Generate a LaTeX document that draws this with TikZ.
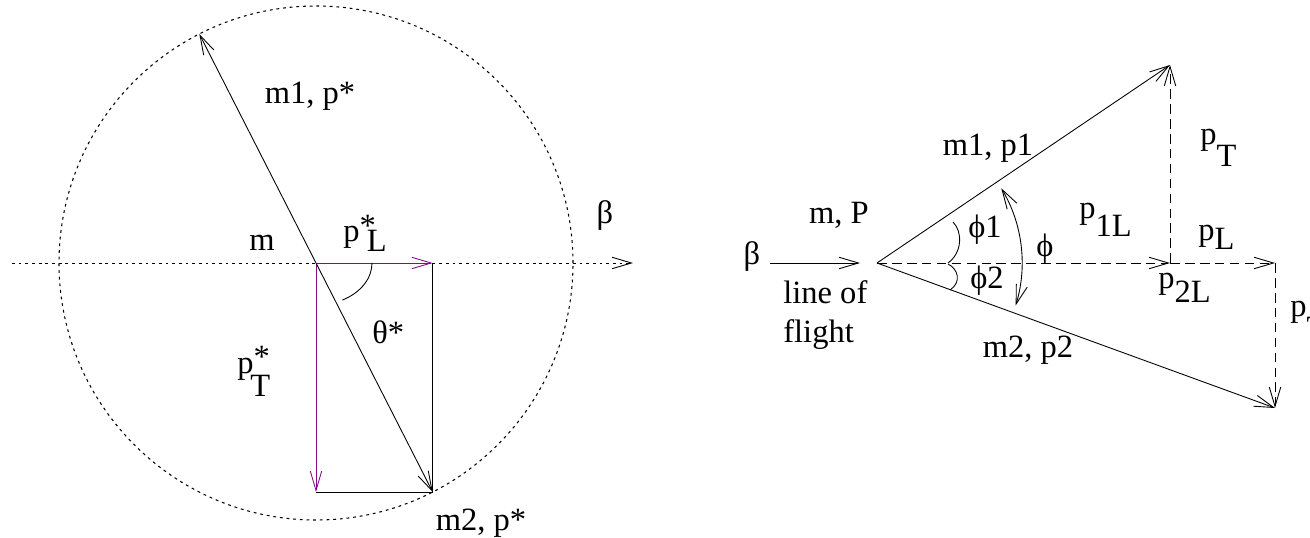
\documentclass[tikz,border=0pt]{standalone}
\usepackage{fontspec}
\setmainfont{Liberation Serif}
\usetikzlibrary{arrows.meta}
\definecolor{pvec}{RGB}{135,10,135}

\begin{document}
\begin{tikzpicture}[
  x=0.02cm, y=0.02cm,
  lbl/.style={inner sep=0pt, anchor=base, font=\fontsize{18.5}{22}\selectfont},
  lblw/.style={lbl, anchor=base west},
  vec/.style={-{Straight Barb[length=11pt,width=6.5pt]}, line width=0.5pt},
  vecboth/.style={{Straight Barb[length=11pt,width=6.5pt]}-{Straight Barb[length=11pt,width=6.5pt]}, line width=0.5pt},
  dotline/.style={line width=0.6pt, dash pattern=on 1.6pt off 2.2pt},
  dashline/.style={line width=0.5pt, dash pattern=on 5.5pt off 3pt}
]
\useasboundingbox (0,0) rectangle (1310,-537);

% rest frame
\coordinate (O) at (316,-263);
\coordinate (axL) at (12,-263);
\coordinate (axR) at (633,-263);
\coordinate (m1end) at ([shift={(117:257)}]O);
\coordinate (m2end) at ([shift={(-63:257)}]O);
\coordinate (pL) at (m2end |- O);
\coordinate (pT) at (O |- m2end);
\coordinate (thA) at (372,-263);

\draw[dotline] (O) circle (257);
\draw[dotline, vec] (axL) -- (axR);
\draw[line width=0.5pt] (pL) -- (m2end) -- (pT);
\draw[vec, pvec] (O) -- (pL);
\draw[vec, pvec] (O) -- (pT);
\draw[vecboth] (m1end) -- (m2end);
\draw[line width=0.5pt] (thA) arc[start angle=0, end angle=-62, x radius=56, y radius=42];

\node[lbl] (m1lbl) at (310,-103) {m1, p*};
\node[lbl] (mlbl) at (262,-250) {m};
\node[lblw] (pLlbl) at (343,-241) {p\raisebox{2.5pt}{*}\kern-0.28em\raisebox{-6pt}{L}};
\node[lbl] (betaL) at (605,-223) {β};
\node[lblw] (thlbl) at (372,-343) {θ*};
\node[lblw] (pTlbl) at (237,-373) {p\rlap{\raisebox{3pt}{*}}\kern-0.1em\raisebox{-13.5pt}{T}};
\node[lbl] (m2lbl) at (481,-530) {m2, p*};

% lab frame
\coordinate (V) at (877,-263);
\coordinate (bS) at (770,-263);
\coordinate (bE) at (860,-263);
\coordinate (p1) at (1170,-65);
\coordinate (p2) at (1275,-408);
\coordinate (p2L) at (1170,-263);
\coordinate (pLend) at (1275,-263);
\coordinate (phiA) at ([shift={(31:145)}]V);

\draw[vec] (bS) -- (bE);
\draw[vec] (V) -- (p1);
\draw[vec] (V) -- (p2);
\draw[dashline, vec] (V) -- (p2L);
\draw[dashline, vec] (p2L) -- (pLend);
\draw[dashline, vec] (p2L) -- (p1);
\draw[dashline, vec] (pLend) -- (p2);
\draw[line width=0.5pt] (953,-222) .. controls (963,-232) and (962,-253) .. (948,-263);
\draw[line width=0.5pt] (948,-264) .. controls (958,-269) and (962,-282) .. (950,-290);
\draw[vecboth] (phiA) arc[start angle=31, end angle=-17, radius=145];

\node[lbl] (betaR) at (752,-264) {β};
\node[lbl] (mPlbl) at (839,-223) {m, P};
\node[lblw] (lof1) at (783,-303) {line of};
\node[lblw] (lof2) at (783,-342) {flight};
\node[lbl] (m1p1) at (988,-155) {m1, p1};
\node[lbl] (phi1) at (985,-237) {ϕ1};
\node[lbl] (phi2) at (987,-288) {ϕ2};
\node[lbl] (phi) at (1045,-256) {ϕ};
\node[lblw] (p1Llbl) at (1079,-218) {p\raisebox{-10.8pt}{1L}};
\node[lblw] (pTR) at (1200,-144) {p\raisebox{-13pt}{T}};
\node[lblw] (pLR) at (1198,-240) {p\raisebox{-5.5pt}{L}};
\node[lblw] (p2Llbl) at (1158,-288) {p\raisebox{-8.5pt}{2L}};
\node[lblw] (pTcut) at (1290,-316) {p\raisebox{-13pt}{T}};
\node[lbl] (m2p2) at (1028,-357) {m2, p2};
\end{tikzpicture}
\end{document}
